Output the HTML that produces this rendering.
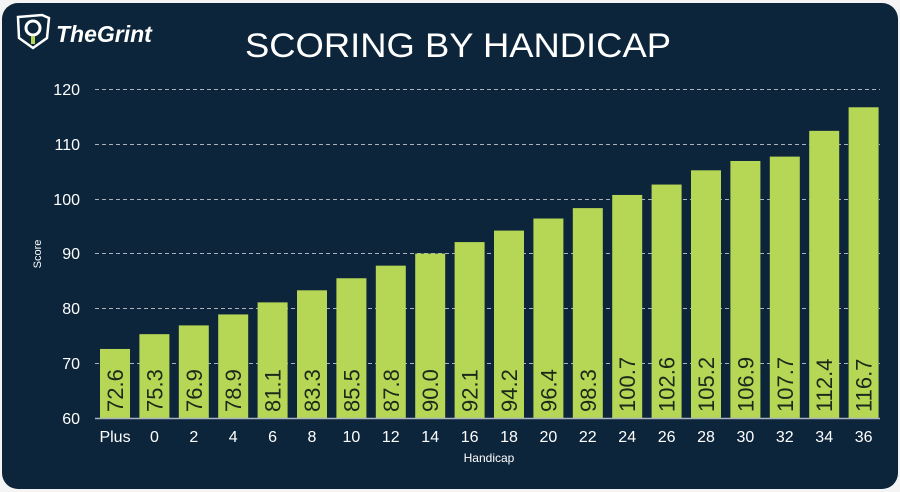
<!DOCTYPE html>
<html><head><meta charset="utf-8"><style>
body{margin:0;background:#fff;}
svg{display:block}
text{font-family:"Liberation Sans",sans-serif}
</style></head><body>
<svg width="900" height="492" viewBox="0 0 900 492">
<rect x="0" y="0" width="900" height="492" fill="#f4f4f4"/>
<rect x="2" y="3" width="896" height="486" rx="16" fill="#0d253a"/>
<path d="M18 17 L42 15 L49 18 L47 38 L33 48 L19 38 Z" fill="none" stroke="#fff" stroke-width="2.5"/>
<circle cx="33" cy="28" r="7" fill="none" stroke="#fff" stroke-width="3"/>
<rect x="31" y="36" width="4" height="8" fill="#b6d655"/>
<text x="56" y="42" fill="#fff" font-size="23" font-style="italic" font-family="Liberation Serif,serif" font-weight="bold">TheGrint</text>
<text x="458" y="57" fill="#fff" font-size="34" text-anchor="middle" textLength="426" lengthAdjust="spacingAndGlyphs">SCORING BY HANDICAP</text>
<g stroke="#aab4bf" stroke-width="1" stroke-dasharray="4,3">
<line x1="95" x2="880" y1="89.5" y2="89.5"/>
<line x1="95" x2="880" y1="144.5" y2="144.5"/>
<line x1="95" x2="880" y1="199.5" y2="199.5"/>
<line x1="95" x2="880" y1="253.5" y2="253.5"/>
<line x1="95" x2="880" y1="308.5" y2="308.5"/>
<line x1="95" x2="880" y1="363.5" y2="363.5"/>
</g>
<g fill="#fff" font-size="16" text-anchor="end">
<text x="80" y="95">120</text><text x="80" y="150">110</text><text x="80" y="205">100</text>
<text x="80" y="259">90</text><text x="80" y="314">80</text><text x="80" y="369">70</text><text x="80" y="424">60</text>
</g>
<text transform="translate(41,254) rotate(-90)" fill="#fff" font-size="11" text-anchor="middle">Score</text>
<text x="489" y="462" fill="#fff" font-size="12" text-anchor="middle">Handicap</text>
<g id="bars"></g>
<line x1="95" x2="880" y1="418.5" y2="418.5" stroke="#aab4bf" stroke-width="1.5"/>
<g id="xl" fill="#fff" font-size="16" text-anchor="middle"></g>
</svg>
<script>
var v=[72.6,75.3,76.9,78.9,81.1,83.3,85.5,87.8,90.0,92.1,94.2,96.4,98.3,100.7,102.6,105.2,106.9,107.7,112.4,116.7];
var l=["Plus","0","2","4","6","8","10","12","14","16","18","20","22","24","26","28","30","32","34","36"];
var ns="http://www.w3.org/2000/svg",b=document.getElementById("bars"),x=document.getElementById("xl");
v.forEach(function(d,i){
 var x0=100+i*39.4,top=418-(d-60)*5.48;
 var r=document.createElementNS(ns,"rect");
 r.setAttribute("x",x0);r.setAttribute("y",top);r.setAttribute("width",30);r.setAttribute("height",418-top);r.setAttribute("fill","#b6d655");b.appendChild(r);
 var t=document.createElementNS(ns,"text");
 t.setAttribute("transform","translate("+(x0+23)+",412) rotate(-90)");t.setAttribute("font-size","22");t.setAttribute("fill","#1a2a1a");
 t.textContent=d.toFixed(1);b.appendChild(t);
 var u=document.createElementNS(ns,"text");u.setAttribute("x",x0+15);u.setAttribute("y",442);u.textContent=l[i];x.appendChild(u);
});
</script>
</body></html>
